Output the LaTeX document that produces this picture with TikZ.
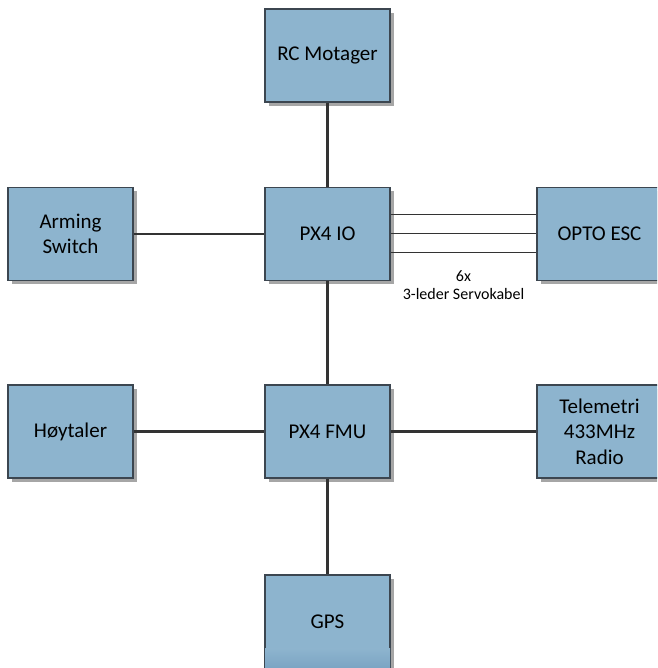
\documentclass[tikz,border=0pt]{standalone}
\usepackage{fontspec}
\setmainfont{Carlito}
\usetikzlibrary{shadows}
\definecolor{boxfill}{HTML}{8DB4CE}
\definecolor{boxdark}{HTML}{7BA4C3}
\definecolor{boxline}{HTML}{3C4650}
\definecolor{conn}{HTML}{333333}
\definecolor{shadowgray}{HTML}{A6A6A6}
\tikzset{
  blk/.style={draw=boxline, fill=boxfill, line width=1.2pt, minimum width=125pt,
    minimum height=93pt, inner sep=0pt, align=center,
    font=\fontsize{21pt}{25.5pt}\selectfont,
    drop shadow={shadow xshift=4pt, shadow yshift=-4pt, fill=shadowgray, opacity=1}},
  wire/.style={draw=conn, line width=2.5pt},
  servo/.style={draw=conn, line width=1pt},
  lbl/.style={align=center, font=\fontsize{16pt}{18.5pt}\selectfont, inner sep=0pt}
}
\begin{document}
\begin{tikzpicture}[x=1pt,y=1pt]
\useasboundingbox (0,0) rectangle (657,668);
\clip (0,0) rectangle (657,668);
\coordinate (rcc) at (327.5,612.5);
\coordinate (ioc) at (327.5,434);
\coordinate (armc) at (70.5,434);
\coordinate (optoc) at (599.5,434);
\coordinate (fmuc) at (327.5,236.5);
\coordinate (hoyc) at (70.5,236.5);
\coordinate (telc) at (599.5,236.5);
\coordinate (gpsc) at (327.5,46.5);
\node[blk] (rc) at (rcc) {RC Motager};
\node[blk] (io) at (ioc) {PX4 IO};
\node[blk] (arm) at (armc) {Arming\\Switch};
\node[blk] (opto) at (optoc) {OPTO ESC};
\node[blk] (fmu) at (fmuc) {PX4 FMU};
\node[blk] (hoy) at (hoyc) {Høytaler};
\node[blk] (tel) at (telc) {Telemetri\\433MHz\\Radio};
\node[blk] (gps) at (gpsc) {GPS};
% subtly darker bottom band of GPS box
\shade[top color=boxfill, bottom color=boxdark] ([xshift=0.6pt]gps.south west) rectangle ([xshift=-0.6pt,yshift=20pt]gps.south east);
\draw[wire] (rc.south) -- (io.north);
\draw[wire] (arm.east) -- (io.west);
\draw[wire] (io.south) -- (fmu.north);
\draw[wire] (hoy.east) -- (fmu.west);
\draw[wire] (fmu.east) -- (tel.west);
\draw[wire] (fmu.south) -- (gps.north);
\draw[servo] ([yshift=19pt]io.east) -- ([yshift=19pt]opto.west);
\draw[servo] (io.east) -- (opto.west);
\draw[servo] ([yshift=-19pt]io.east) -- ([yshift=-19pt]opto.west);
\node[lbl] (servolbl) at (463.5,383) {6x\\3-leder Servokabel};
\end{tikzpicture}
\end{document}
